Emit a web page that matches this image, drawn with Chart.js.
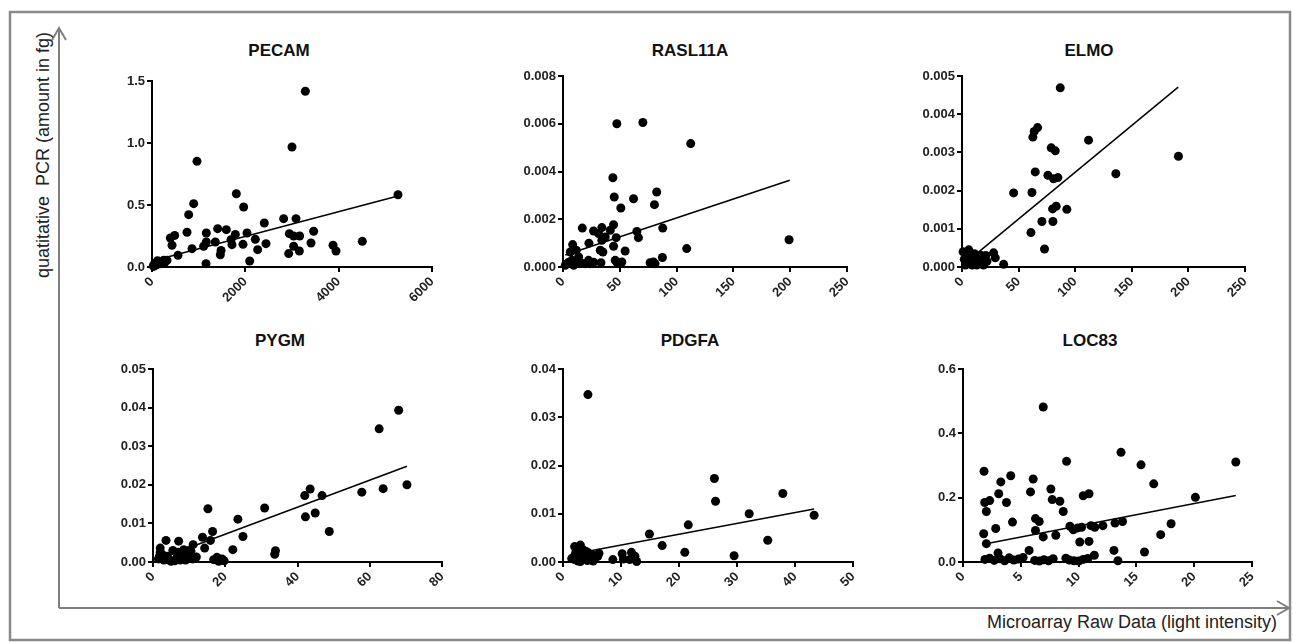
<!DOCTYPE html>
<html>
<head>
<meta charset="utf-8">
<script src="https://cdn.jsdelivr.net/npm/chart.js@4.4.0/dist/chart.umd.min.js"></script>
<style>
  body { margin: 0; background: #fff; width: 1294px; height: 643px; overflow: hidden; position: relative; font-family: "Liberation Sans", Arial, sans-serif; }
  svg { position: absolute; left: 0; top: 0; }
  canvas { position: absolute; }
  .ttl { position: absolute; transform: translate(-50%, -50%); font-weight: bold; font-size: 17px; color: #111; white-space: nowrap; line-height: 1; }
</style>
</head>
<body>
<svg width="1294" height="643">
  <rect x="10" y="12" width="1280" height="628" fill="none" stroke="#8a8a8a" stroke-width="2.5"/>
  <polyline points="59,608 59,28" stroke="#7f7f7f" stroke-width="2" fill="none"/>
  <polyline points="52,40 59,28 66,40" stroke="#7f7f7f" stroke-width="2" fill="none"/>
  <polyline points="59,608 1289,608" stroke="#7f7f7f" stroke-width="2" fill="none"/>
  <polyline points="1277,601 1289,608 1277,615" stroke="#7f7f7f" stroke-width="2" fill="none"/>
  <text transform="translate(49,278) rotate(-90)" font-size="18" fill="#222">quatitative&#160; PCR (amount in fg)</text>
  <text x="1277" y="628" text-anchor="end" font-size="18" fill="#222">Microarray Raw Data (light intensity)</text>
</svg>
<script>
// values
const pecamX = [3286, 3000, 964, 5271, 1807, 893, 1964, 786, 2821, 3086, 2407, 3464, 750, 1164, 1407, 1593, 1786, 2036, 2943, 3164, 3036, 393, 486, 1357, 1164, 1693, 1714, 429, 857, 1107, 1479, 1464, 1950, 2214, 2264, 2443, 3036, 2929, 3157, 3407, 3879, 3943, 4507, 2093, 1157, 557, 143, 250, 321, 71, 36, 107, 179, 30, 60, 200, 120, 280];
const pecamY = [1.417, 0.968, 0.852, 0.583, 0.591, 0.511, 0.484, 0.422, 0.390, 0.390, 0.355, 0.288, 0.280, 0.274, 0.309, 0.301, 0.263, 0.274, 0.269, 0.250, 0.250, 0.234, 0.255, 0.202, 0.202, 0.220, 0.180, 0.175, 0.148, 0.167, 0.134, 0.099, 0.183, 0.223, 0.140, 0.188, 0.167, 0.108, 0.129, 0.194, 0.175, 0.129, 0.207, 0.048, 0.027, 0.094, 0.040, 0.054, 0.054, 0.013, 0.005, 0.020, 0.027, 0.010, 0.030, 0.030, 0.050, 0.040];
const pecamFitX = [30, 5290];
const pecamFitY = [0.05, 0.575];

const raslX = [47.4, 70.3, 112.4, 43.9, 45.1, 62.1, 82.5, 50.9, 80.5, 199, 108.9, 87.8, 65, 66.4, 44.5, 41.6, 46.8, 34.2, 26.9, 31.3, 17, 22.8, 34.2, 37.2, 32.8, 35.1, 44.5, 54.7, 46, 51.8, 47.4, 33.4, 87.5, 76.7, 79.6, 81, 8.5, 11.7, 6.4, 22.5, 15.2, 19.6, 3.5, 7.9, 2, 12.3, 24, 26.9, 9.4, 5, 13.8];
const raslY = [0.0060, 0.00605, 0.00517, 0.00374, 0.00293, 0.00286, 0.00314, 0.00247, 0.00261, 0.00114, 0.00077, 0.00163, 0.00149, 0.00123, 0.00177, 0.00154, 0.00123, 0.00165, 0.00151, 0.0014, 0.00163, 0.001, 0.00112, 0.00126, 0.0007, 0.00063, 0.00087, 0.00067, 0.00028, 0.00021, 0.0002, 0.00018, 0.0004, 0.00018, 0.00021, 0.00014, 0.00094, 0.0007, 0.00063, 0.00028, 0.0002, 0.00014, 0.00014, 0.00028, 0.00007, 0.00028, 0.00014, 0.0002, 0.00007, 0.0002, 0.00042];
const raslFitX = [2, 199.6];
const raslFitY = [0.0005, 0.00363];

const elmoX = [86.8, 66.8, 63.8, 62.6, 111.8, 78.8, 82.4, 191.2, 64.7, 135.9, 75.9, 80.9, 84.7, 45.6, 61.8, 83.2, 80, 92.6, 70.6, 80.3, 60.9, 72.9, 27.9, 29.4, 36.8, 1, 3, 5, 2, 4, 6, 8, 10, 12, 14, 16, 18, 20, 22, 9, 13, 7, 11, 17, 19, 3, 15, 21, 6];
const elmoY = [0.00469, 0.00365, 0.00355, 0.0034, 0.00332, 0.00312, 0.00304, 0.0029, 0.00249, 0.00244, 0.0024, 0.00231, 0.00234, 0.00194, 0.00195, 0.00159, 0.00152, 0.00151, 0.00119, 0.00119, 0.0009, 0.00047, 0.00037, 0.00024, 0.00007, 0.0004, 0.00035, 0.0003, 0.0002, 0.0001, 0.00025, 0.0003, 0.0002, 0.00015, 0.0003, 0.0002, 0.0001, 0.00025, 0.00015, 0.00005, 0.00005, 0.00015, 0.00035, 0.0003, 0.00005, 0.00005, 0.0001, 0.0003, 0.00045];
const elmoFitX = [2, 191];
const elmoFitY = [0.00008, 0.00471];

const pygmX = [68, 62.6, 70.3, 63.7, 57.8, 43.5, 42, 46.8, 44.9, 42.2, 48.8, 30.9, 15.2, 23.5, 24.9, 16.5, 13.7, 15.9, 14.3, 22.1, 33.9, 33.7, 11.1, 7.1, 3.6, 2, 17.7, 19.1, 16.8, 18.2, 19.7, 1.5, 2.5, 3, 4, 5, 5.5, 6.5, 7, 8, 8.5, 9, 9.5, 10, 10.5, 11, 12, 2, 3.5, 6, 7.5, 4.5, 1.8, 10, 8];
const pygmY = [0.0393, 0.0345, 0.02, 0.019, 0.0181, 0.0189, 0.0172, 0.0172, 0.0127, 0.0117, 0.0079, 0.014, 0.0138, 0.0111, 0.0066, 0.0079, 0.0064, 0.0056, 0.0036, 0.0032, 0.0029, 0.002, 0.0045, 0.0054, 0.0056, 0.0036, 0.0012, 0.0008, 0.0006, 0.0002, 0.0003, 0.0008, 0.002, 0.0005, 0.0015, 0.0002, 0.003, 0.001, 0.0025, 0.0015, 0.0032, 0.0005, 0.002, 0.0012, 0.0028, 0.0008, 0.0013, 0.0025, 0.0012, 0.0003, 0.0005, 0.0005, 0.0015, 0.003, 0.0022];
const pygmFitX = [2, 70.3];
const pygmFitY = [0.0009, 0.0248];

const pdgfaX = [4.3, 26.1, 26.3, 37.9, 32.1, 43.3, 21.6, 14.9, 17.1, 35.3, 21, 29.5, 8.6, 10.2, 10.4, 11.8, 12.4, 12.7, 11.5, 2, 2.5, 3, 2.2, 2.8, 1.8, 2, 2.6, 3.2, 3.5, 4.5, 4.8, 5, 5.5, 6, 6.2, 3.8, 4.2, 5.2, 1.5, 3, 4];
const pdgfaY = [0.0347, 0.0173, 0.0126, 0.0142, 0.01, 0.0097, 0.0077, 0.0058, 0.0034, 0.0045, 0.002, 0.0013, 0.0005, 0.0017, 0.0006, 0.002, 0.0012, 0.0001, 0.0005, 0.0032, 0.003, 0.0035, 0.002, 0.0015, 0.001, 0.0005, 0.0002, 0.0008, 0.0025, 0.0018, 0.0005, 0.0015, 0.0008, 0.0012, 0.0018, 0.0011, 0.0003, 0.0002, 0.0007, 0.0001, 0.0022];
const pdgfaFitX = [2, 43.3];
const pdgfaFitY = [0.0017, 0.011];

const locX = [6.94, 13.67, 8.96, 15.4, 23.6, 1.82, 4.13, 6.07, 3.27, 16.5, 7.6, 5.84, 3.09, 10.9, 10.4, 20.1, 7.72, 8.38, 2.31, 1.88, 3.76, 8.67, 2.02, 6.27, 6.59, 4.28, 9.25, 9.91, 9.54, 10.26, 11.07, 12.1, 11.4, 13.15, 13.8, 18, 17.1, 6.27, 6.94, 8.03, 2.83, 1.79, 2.02, 10.1, 10.9, 5.72, 3.03, 13.06, 15.7, 11.36, 13.4, 1.9, 2.3, 2.7, 3.2, 3.6, 4.0, 4.4, 4.8, 5.2, 6.2, 6.6, 7.0, 7.4, 7.8, 8.9, 9.2, 9.6, 10.0, 10.4, 10.8];
const locY = [0.482, 0.341, 0.313, 0.302, 0.311, 0.282, 0.268, 0.258, 0.249, 0.243, 0.227, 0.218, 0.212, 0.212, 0.206, 0.201, 0.194, 0.189, 0.191, 0.185, 0.185, 0.157, 0.157, 0.135, 0.126, 0.124, 0.111, 0.106, 0.1, 0.108, 0.113, 0.113, 0.108, 0.121, 0.126, 0.119, 0.085, 0.098, 0.078, 0.083, 0.104, 0.088, 0.057, 0.062, 0.064, 0.036, 0.028, 0.036, 0.031, 0.021, 0.004, 0.008, 0.012, 0.005, 0.01, 0.004, 0.013, 0.006, 0.009, 0.014, 0.005, 0.003, 0.007, 0.004, 0.01, 0.012, 0.006, 0.004, 0.003, 0.008, 0.011];
const locFitX = [1.88, 23.6];
const locFitY = [0.056, 0.207];

Chart.defaults.font.family = '"Liberation Sans", Arial, sans-serif';

function pairs(xs, ys) {
  return xs.map((x, i) => ({ x: x, y: ys[i] }));
}

// plot box (L,T,R,B) in page pixels; title placed above at (L + 127, ty)
function panel(title, xs, ys, fx, fy, o) {
  const top = o.T - 12;
  const left = o.L - 62;
  const width = o.R - left + 24;
  const height = o.B + 48 - top;

  const t = document.createElement('div');
  t.className = 'ttl';
  t.textContent = title;
  t.style.left = (o.L + 127) + 'px';
  t.style.top = o.ty + 'px';
  document.body.appendChild(t);

  const cv = document.createElement('canvas');
  cv.width = width;
  cv.height = height;
  cv.style.left = left + 'px';
  cv.style.top = top + 'px';
  document.body.appendChild(cv);

  const tickFont = { size: 13, weight: 'bold' };
  const grid = { drawOnChartArea: false, drawTicks: true, tickLength: 5, color: '#000', lineWidth: 2 };

  new Chart(cv, {
    type: 'scatter',
    data: {
      datasets: [
        { data: pairs(xs, ys), pointRadius: 4.5, pointHoverRadius: 4.5, backgroundColor: '#000', borderWidth: 0, clip: false },
        { data: pairs(fx, fy), showLine: true, pointRadius: 0, borderColor: '#000', borderWidth: 1.5, clip: false }
      ]
    },
    options: {
      responsive: false,
      animation: false,
      events: [],
      layout: { padding: { left: 0, right: 24, top: 12, bottom: 0 } },
      plugins: {
        legend: { display: false },
        tooltip: { enabled: false },
        title: { display: false }
      },
      scales: {
        x: {
          type: 'linear',
          min: 0,
          max: o.xMax,
          ticks: { stepSize: o.xStep, autoSkip: false, minRotation: 45, maxRotation: 45, color: '#222', font: tickFont, padding: 2,
                   callback: (v) => String(v) },
          grid: grid,
          border: { color: '#000', width: 2 },
          afterFit: (s) => { s.height = 48; }
        },
        y: {
          type: 'linear',
          min: 0,
          max: o.yMax,
          ticks: { stepSize: o.yStep, autoSkip: false, color: '#222', font: tickFont, padding: 2,
                   callback: (v) => v.toFixed(o.dec) },
          grid: grid,
          border: { color: '#000', width: 2 },
          afterFit: (s) => { s.width = 62; }
        }
      }
    }
  });
}

panel('PECAM', pecamX, pecamY, pecamFitX, pecamFitY,
  { ty: 50, L: 152, T: 81, R: 432, B: 267, xMax: 6000, xStep: 2000, yMax: 1.5, yStep: 0.5, dec: 1 });
panel('RASL11A', raslX, raslY, raslFitX, raslFitY,
  { ty: 50, L: 563, T: 76, R: 847, B: 267, xMax: 250, xStep: 50, yMax: 0.008, yStep: 0.002, dec: 3 });
panel('ELMO', elmoX, elmoY, elmoFitX, elmoFitY,
  { ty: 50, L: 962, T: 76, R: 1245, B: 267, xMax: 250, xStep: 50, yMax: 0.005, yStep: 0.001, dec: 3 });
panel('PYGM', pygmX, pygmY, pygmFitX, pygmFitY,
  { ty: 340, L: 153, T: 369, R: 442, B: 562, xMax: 80, xStep: 20, yMax: 0.05, yStep: 0.01, dec: 2 });
panel('PDGFA', pdgfaX, pdgfaY, pdgfaFitX, pdgfaFitY,
  { ty: 340, L: 563, T: 369, R: 853, B: 562, xMax: 50, xStep: 10, yMax: 0.04, yStep: 0.01, dec: 2 });
panel('LOC83', locX, locY, locFitX, locFitY,
  { ty: 340, L: 963, T: 369, R: 1252, B: 562, xMax: 25, xStep: 5, yMax: 0.6, yStep: 0.2, dec: 1 });
</script>
</body>
</html>
